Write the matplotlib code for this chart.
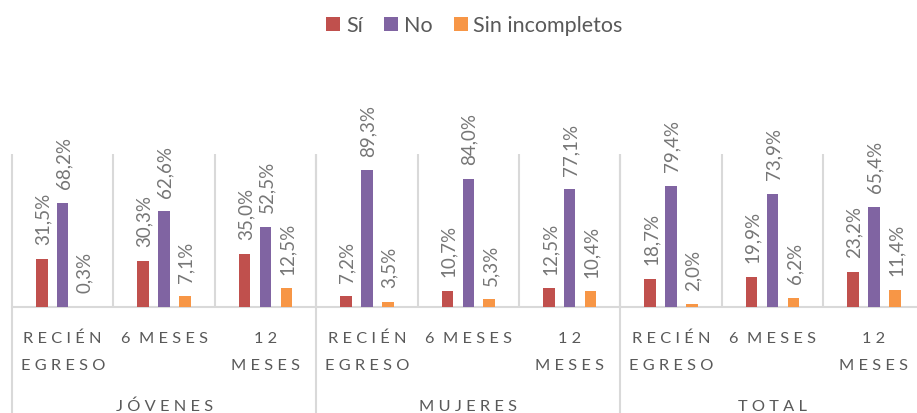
import matplotlib
matplotlib.use("Agg")
import matplotlib.pyplot as plt
import numpy as np

plt.rcParams['font.family'] = ['Lato', 'DejaVu Sans']

# ---- data ----
groups = ["JÓVENES", "MUJERES", "TOTAL"]
subcats = [("RECIÉN", "EGRESO"), ("6  MESES", ""), ("12", "MESES")]
series_names = ["Sí", "No", "Sin incompletos"]
si = [31.5, 30.3, 35.0, 7.2, 10.7, 12.5, 18.7, 19.9, 23.2]
no = [68.2, 62.6, 52.5, 89.3, 84.0, 77.1, 79.4, 73.9, 65.4]
sin_inc = [0.3, 7.1, 12.5, 3.5, 5.3, 10.4, 2.0, 6.2, 11.4]
colors = ["#C0504D", "#8064A2", "#F79646"]

W, H = 917, 414
fig = plt.figure(figsize=(W / 100, H / 100), dpi=100)
base_y = 308.3
top_y = 155.0
left_x = 12.0
right_x = 924.6
ax = fig.add_axes([left_x / W, (H - base_y) / H, (right_x - left_x) / W, (base_y - top_y) / H])

n = len(si)
x = np.arange(n)
bw = 0.113
off = 0.206
grid_c = "#D9D9D9"
val_c = "#767676"
lab_c = "#595959"

handles = []
for vals, dx, c, name in zip([si, no, sin_inc], [-off, 0, off], colors, series_names):
    b = ax.bar(x + dx, vals, bw, color=c, label=name, zorder=3)
    handles.append(b)
    for xi, v in zip(x + dx, vals):
        ax.annotate(f"{v:.1f}%".replace(".", ","), xy=(xi, v), xytext=(0.8, 10.5),
                    textcoords="offset points", rotation=90, ha="center", va="bottom",
                    fontsize=13.5, color=val_c)

ax.set_xlim(-0.5, n - 0.5)
ax.set_ylim(0, 100)
for s in ["top", "left", "right"]:
    ax.spines[s].set_visible(False)
ax.spines["bottom"].set_color(grid_c)
ax.spines["bottom"].set_linewidth(1.5)
ax.set_xticks([])
ax.set_yticks([])

# vertical gridlines between categories
ax.vlines(np.arange(0.5, n - 0.5, 1.0), 0, 100, color=grid_c, lw=1.5, zorder=1)
# group separators extending into label area
ax.vlines(np.arange(-0.5, n + 0.5, 3.0), -90, 100, color=grid_c, lw=1.5, zorder=1, clip_on=False)

def spaced(s):
    return " ".join(list(s)).replace("   ", "  ")

cat_fs = 11.8
# category labels
for i in range(n):
    l1, l2 = subcats[i % 3]
    ax.annotate(spaced(l1) if l1 != "6  MESES" else "6  " + spaced("MESES"),
                xy=(x[i], 0), xycoords=("data", "axes fraction"),
                xytext=(0, -34.7 * 0.72), textcoords="offset points",
                ha="center", va="baseline", fontsize=cat_fs, color=lab_c, annotation_clip=False)
    if l2:
        ax.annotate(spaced(l2), xy=(x[i], 0), xycoords=("data", "axes fraction"),
                    xytext=(0, -61.7 * 0.72), textcoords="offset points",
                    ha="center", va="baseline", fontsize=cat_fs, color=lab_c, annotation_clip=False)
for g, name in enumerate(groups):
    ax.annotate(spaced(name), xy=(3 * g + 1, 0), xycoords=("data", "axes fraction"),
                xytext=(0, -102.4 * 0.72), textcoords="offset points",
                ha="center", va="baseline", fontsize=cat_fs, color=lab_c, annotation_clip=False)

leg = fig.legend(handles=handles, labels=series_names, loc="center",
                 bbox_to_anchor=(474.5 / W, 1 - 26.3 / H), ncol=3, frameon=False,
                 fontsize=15.5, handlelength=0.65, handleheight=0.65, handletextpad=0.25,
                 columnspacing=1.0, borderpad=0, borderaxespad=0)
for t in leg.get_texts():
    t.set_color(lab_c)

fig.savefig("out.png", dpi=100)
